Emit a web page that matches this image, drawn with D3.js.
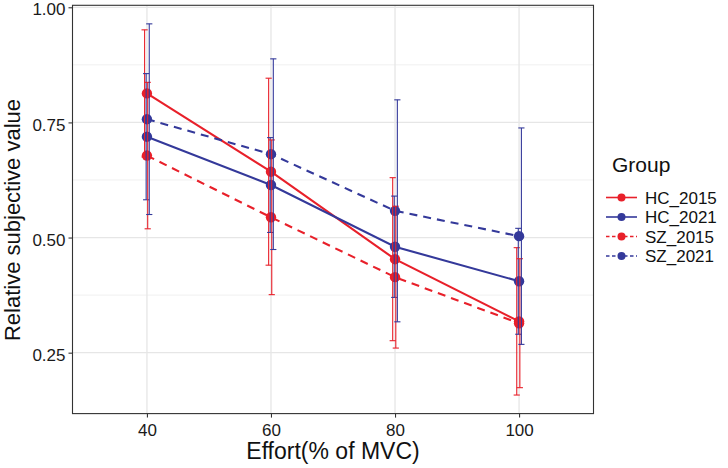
<!DOCTYPE html>
<html>
<head>
<meta charset="utf-8">
<script src="https://cdn.jsdelivr.net/npm/d3@7"></script>
<style>
  html, body { margin: 0; padding: 0; background: #fff; }
  svg { display: block; font-family: "Liberation Sans", Arial, sans-serif; }
</style>
</head>
<body>
<svg id="chart" width="728" height="468"></svg>
<script>
// ---- Data ----
const effortLevels = ["40", "60", "80", "100"];
const groupNames = ["HC_2015", "HC_2021", "SZ_2015", "SZ_2021"];
const hc2015Mean = [0.813, 0.643, 0.453, 0.318];
const hc2015Sd   = [0.138, 0.203, 0.177, 0.160];
const hc2021Mean = [0.719, 0.614, 0.480, 0.405];
const hc2021Sd   = [0.137, 0.103, 0.110, 0.115];
const sz2015Mean = [0.678, 0.544, 0.414, 0.314];
const sz2015Sd   = [0.159, 0.168, 0.154, 0.140];
const sz2021Mean = [0.757, 0.681, 0.558, 0.503];
const sz2021Sd   = [0.207, 0.207, 0.241, 0.235];
const yTickValues = [0.25, 0.50, 0.75, 1.00];
const yMinorValues = [0.375, 0.625, 0.875];

const RED = "#E8202A", BLUE = "#34399A";
const series = [
  { name: groupNames[0], mean: hc2015Mean, sd: hc2015Sd, color: RED,  dash: null },
  { name: groupNames[1], mean: hc2021Mean, sd: hc2021Sd, color: BLUE, dash: null },
  { name: groupNames[2], mean: sz2015Mean, sd: sz2015Sd, color: RED,  dash: "8,6" },
  { name: groupNames[3], mean: sz2021Mean, sd: sz2021Sd, color: BLUE, dash: "8,6" }
];

// ---- Layout ----
const panel = { left: 72.5, right: 593.5, top: 5.3, bottom: 413.6 };
const svg = d3.select("#chart");

// y domain: data extent expanded by 5% (ggplot default)
const lows = series.flatMap(s => s.mean.map((m, i) => m - s.sd[i]));
const highs = series.flatMap(s => s.mean.map((m, i) => m + s.sd[i]));
const lo = d3.min(lows), hi = d3.max(highs), pad = (hi - lo) * 0.05;

const x = d3.scalePoint().domain(effortLevels).range([panel.left, panel.right]).padding(0.6);
const y = d3.scaleLinear().domain([lo - pad, hi + pad]).range([panel.bottom, panel.top]);
const step = x.step();

// ---- Grid ----
const grid = svg.append("g");
grid.selectAll(".ymin").data(yMinorValues).join("line")
  .attr("x1", panel.left).attr("x2", panel.right)
  .attr("y1", d => y(d)).attr("y2", d => y(d))
  .attr("stroke", "#f0f0f0").attr("stroke-width", 1);
grid.selectAll(".ymaj").data(yTickValues).join("line")
  .attr("x1", panel.left).attr("x2", panel.right)
  .attr("y1", d => y(d)).attr("y2", d => y(d))
  .attr("stroke", "#e6e6e6").attr("stroke-width", 1.3);
grid.selectAll(".xmaj").data(effortLevels).join("line")
  .attr("x1", d => x(d)).attr("x2", d => x(d))
  .attr("y1", panel.top).attr("y2", panel.bottom)
  .attr("stroke", "#e6e6e6").attr("stroke-width", 1.3);

// ---- Lines ----
const line = d3.line().x(d => x(d.x)).y(d => y(d.v));
series.forEach(s => {
  const pts = effortLevels.map((lv, i) => ({ x: lv, v: s.mean[i] }));
  svg.append("path").datum(pts)
    .attr("d", line).attr("fill", "none")
    .attr("stroke", s.color).attr("stroke-width", 2.1)
    .attr("stroke-dasharray", s.dash);
});

// ---- Points ----
series.forEach(s => {
  svg.append("g").selectAll("circle")
    .data(effortLevels.map((lv, i) => ({ x: lv, v: s.mean[i] })))
    .join("circle")
    .attr("cx", d => x(d.x)).attr("cy", d => y(d.v))
    .attr("r", 5.2).attr("fill", s.color);
});

// ---- Error bars (small dodge) ----
const dodge = 0.0125; // in step units
const capHalf = 0.025 * step;
series.forEach((s, gi) => {
  const off = (gi - 1.5) * dodge * step;
  const g = svg.append("g").attr("stroke", s.color).attr("stroke-width", 1.1).attr("fill", "none");
  effortLevels.forEach((lv, i) => {
    const cx = x(lv) + off;
    const yt = y(s.mean[i] + s.sd[i]), yb = y(s.mean[i] - s.sd[i]);
    g.append("line").attr("x1", cx).attr("x2", cx).attr("y1", yt).attr("y2", yb);
    g.append("line").attr("x1", cx - capHalf).attr("x2", cx + capHalf).attr("y1", yt).attr("y2", yt);
    g.append("line").attr("x1", cx - capHalf).attr("x2", cx + capHalf).attr("y1", yb).attr("y2", yb);
  });
});

// ---- Panel border ----
svg.append("rect")
  .attr("x", panel.left).attr("y", panel.top)
  .attr("width", panel.right - panel.left).attr("height", panel.bottom - panel.top)
  .attr("fill", "none").attr("stroke", "#333").attr("stroke-width", 1.1);

// ---- Axes ----
const yAxis = svg.append("g").attr("transform", `translate(${panel.left},0)`)
  .call(d3.axisLeft(y).tickValues(yTickValues).tickFormat(d3.format(".2f")).tickSize(4).tickPadding(3));
const xAxis = svg.append("g").attr("transform", `translate(0,${panel.bottom})`)
  .call(d3.axisBottom(x).tickSize(4).tickPadding(6));
[yAxis, xAxis].forEach(a => {
  a.select(".domain").remove();
  a.selectAll(".tick line").attr("stroke", "#333").attr("stroke-width", 1.1);
  a.selectAll(".tick text").attr("fill", "#1a1a1a").style("font-size", "17px")
    .style("font-family", "'Liberation Sans', Arial, sans-serif");
});
yAxis.selectAll(".tick text").attr("dy", "0.45em");

// ---- Titles ----
svg.append("text")
  .attr("x", (panel.left + panel.right) / 2).attr("y", 459)
  .attr("text-anchor", "middle").style("font-size", "23px").attr("fill", "#111")
  .text("Effort(% of MVC)");
svg.append("text")
  .attr("transform", `translate(20,${220}) rotate(-90)`)
  .attr("text-anchor", "middle").style("font-size", "22px").attr("fill", "#111")
  .text("Relative subjective value");

// ---- Legend ----
const leg = svg.append("g");
leg.append("text").attr("x", 612).attr("y", 171.5)
  .style("font-size", "21px").attr("fill", "#111").text("Group");
const rowY = [197.5, 217, 236.5, 256];
series.forEach((s, i) => {
  const ry = rowY[i];
  leg.append("line").attr("x1", 606).attr("x2", 637).attr("y1", ry).attr("y2", ry)
    .attr("stroke", s.color).attr("stroke-width", 1.6)
    .attr("stroke-dasharray", s.dash ? "3.5,2.5" : null);
  leg.append("circle").attr("cx", 621.5).attr("cy", ry).attr("r", 4).attr("fill", s.color);
  leg.append("text").attr("x", 645).attr("y", ry + 6)
    .style("font-size", "17px").attr("fill", "#111").text(s.name);
});
</script>
</body>
</html>
